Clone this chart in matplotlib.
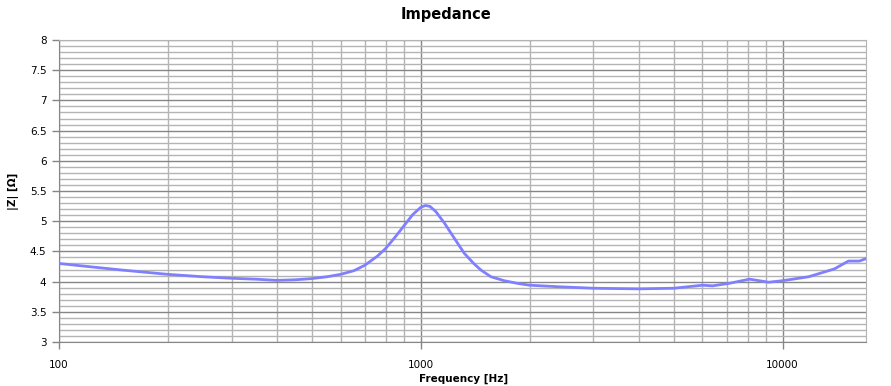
import numpy as np
import matplotlib
matplotlib.use("Agg")
import matplotlib.pyplot as plt
from matplotlib.ticker import FixedLocator, NullFormatter, MultipleLocator

# impedance curve
freq_hz = [100, 120, 150, 200, 250, 300, 350, 400, 450, 500, 550, 600, 653, 700,
           758, 800, 850, 900, 950, 1000, 1030, 1060, 1100, 1162, 1237, 1318, 1400, 1467,
           1563, 1700, 1853, 2000, 2400, 3000, 4000, 5000,
           6000, 6400, 7100, 8100, 9150, 10000, 11800, 13900, 15200, 16300, 17000]
z_ohm = [4.30, 4.25, 4.19, 4.12, 4.08, 4.055, 4.04, 4.02, 4.03, 4.05, 4.08, 4.12, 4.18, 4.27,
         4.42, 4.55, 4.74, 4.93, 5.11, 5.23, 5.26, 5.245, 5.16, 4.97, 4.72, 4.47, 4.30, 4.19,
         4.08, 4.015, 3.97, 3.94, 3.915, 3.89, 3.88, 3.89,
         3.94, 3.93, 3.97, 4.04, 3.99, 4.015, 4.08, 4.21, 4.34, 4.34, 4.38]

x_ticks = [100, 1000, 10000]
x_ticklabels = ["100", "1000", "10000"]

major_col = "#868686"
minor_col = "#b4b4b4"

fig = plt.figure(figsize=(8.91, 3.86), dpi=100)
ax = fig.add_axes([59 / 891, 44 / 386, (866 - 59) / 891, (342 - 40) / 386])

ax.plot(freq_hz, z_ohm, color="#8080ff", lw=2, solid_capstyle="round",
        solid_joinstyle="round", zorder=3)

ax.set_xscale("log")
ax.set_xlim(100, 17000)
ax.set_ylim(3, 8)

ax.xaxis.set_major_locator(FixedLocator(x_ticks))
ax.set_xticklabels(x_ticklabels)
minor_x = [m * d for d in (100, 1000, 10000) for m in range(2, 10) if m * d < 17000]
ax.xaxis.set_minor_locator(FixedLocator(minor_x))
ax.xaxis.set_minor_formatter(NullFormatter())
ax.set_yticks(np.arange(3, 8.01, 0.5))
ax.set_yticklabels([f"{v:g}" for v in np.arange(3, 8.01, 0.5)])
ax.yaxis.set_minor_locator(MultipleLocator(0.1))

ax.grid(which="major", color=major_col, lw=1, zorder=1)
ax.grid(which="minor", color=minor_col, lw=1, zorder=0)
ax.set_axisbelow(True)

ax.tick_params(which="major", length=5, width=1, color=major_col, labelsize=7.5, pad=4)
ax.tick_params(which="minor", length=0)
ax.tick_params(axis="x", pad=8)
for s in ax.spines.values():
    s.set_color(major_col)
ax.spines["top"].set_color(minor_col)
ax.spines["right"].set_color(minor_col)

fig.text(0.5, 1 - 14 / 386, "Impedance", ha="center", va="center",
         fontsize=10.5, fontweight="bold")
fig.text(464 / 891, 1 - 379 / 386, "Frequency [Hz]", ha="center", va="center",
         fontsize=7.5, fontweight="bold")
ax.set_ylabel("|Z| [Ω]", fontsize=7.5, fontweight="bold", labelpad=8)

fig.savefig("out.png", dpi=100)
